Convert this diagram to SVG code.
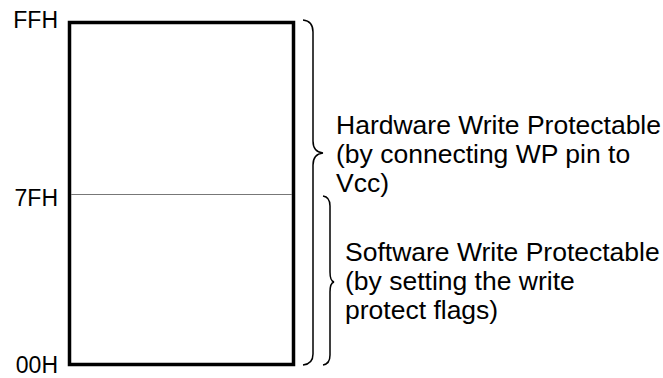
<svg xmlns="http://www.w3.org/2000/svg" width="663" height="378" viewBox="0 0 663 378">
<style>
.addr{font-family:"Liberation Sans",Arial,sans-serif;font-size:23px;fill:#000;text-anchor:end}
.lbl{font-family:"Liberation Sans",Arial,sans-serif;font-size:26.5px;fill:#000}
.brace{fill:none;stroke:#000;stroke-width:1.5}
</style>
<rect width="663" height="378" fill="#fff"/>
<g id="memory">
<rect x="69.5" y="22.5" width="224" height="342" fill="none" stroke="#000" stroke-width="3.5"/>
<line x1="71" y1="194.5" x2="292" y2="194.5" stroke="#777" stroke-width="1.2"/>
</g>
<g id="addresses">
<text class="addr" x="58" y="28">FFH</text>
<text class="addr" x="58" y="206">7FH</text>
<text class="addr" x="58" y="373">00H</text>
</g>
<g id="braces">
<path class="brace" d="M303,20 Q313,21 313,32 L313,141 Q313,152 323,153 Q313,154 313,165 L313,354 Q313,364 303,365"/>
<path class="brace" d="M323,196 Q330,197 330,206 L330,272 Q330,281 334,282 Q330,283 330,292 L330,355 Q330,364 323,365"/>
</g>
<g id="hw-label">
<text class="lbl" x="336" y="134">Hardware Write Protectable</text>
<text class="lbl" x="336" y="163">(by connecting WP pin to</text>
<text class="lbl" x="336" y="192">Vcc)</text>
</g>
<g id="sw-label">
<text class="lbl" x="345" y="261">Software Write Protectable</text>
<text class="lbl" x="345" y="290">(by setting the write</text>
<text class="lbl" x="345" y="319">protect flags)</text>
</g>
</svg>
